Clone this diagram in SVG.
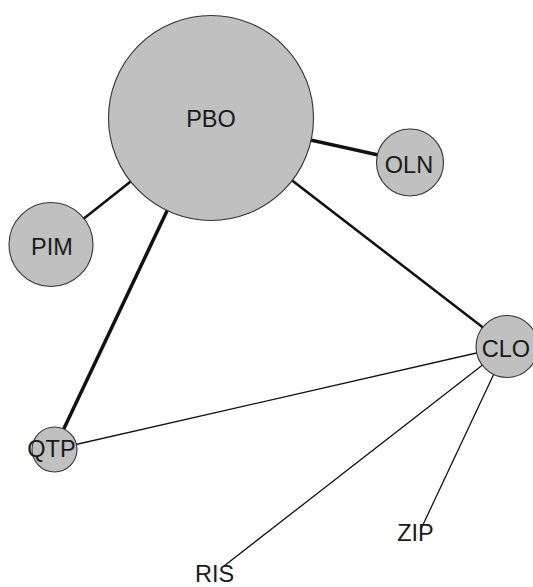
<svg xmlns="http://www.w3.org/2000/svg" width="533" height="587" viewBox="0 0 533 587">
<style>
.e{stroke:#111;fill:none;stroke-linecap:butt}
.n{fill:#c0c0c0;stroke:#333;stroke-width:1.1}
.t{font-family:"Liberation Sans",Arial,sans-serif;font-size:23.5px;fill:#1a1a1a;text-anchor:middle}
</style>
<rect width="533" height="587" fill="#fff"/>
<g id="edges">
<line class="e" x1="211" y1="118" x2="410" y2="162" stroke-width="3.6"/>
<line class="e" x1="211" y1="118" x2="51" y2="244.5" stroke-width="2.5"/>
<line class="e" x1="211" y1="118" x2="54" y2="449.5" stroke-width="3.5"/>
<line class="e" x1="211" y1="118" x2="507" y2="346" stroke-width="2.5"/>
<line class="e" x1="54" y1="449.5" x2="507" y2="346" stroke-width="1.3"/>
<line class="e" x1="507" y1="346" x2="224" y2="566" stroke-width="1.3"/>
<line class="e" x1="507" y1="346" x2="421" y2="529" stroke-width="1.3"/>
</g>
<g id="PBO"><circle class="n" cx="211" cy="118" r="102.5"/><text class="t" x="211" y="127">PBO</text></g>
<g id="OLN"><circle class="n" cx="410" cy="162.5" r="33.5"/><text class="t" x="409" y="173">OLN</text></g>
<g id="PIM"><circle class="n" cx="51" cy="244.5" r="42"/><text class="t" x="52" y="255">PIM</text></g>
<g id="CLO"><circle class="n" cx="507" cy="346.5" r="31"/><text class="t" x="506" y="356.5">CLO</text></g>
<g id="QTP"><circle class="n" cx="54.5" cy="449.5" r="22.5"/><text class="t" x="51.5" y="457">QTP</text></g>
<g id="ZIP"><text class="t" x="415.5" y="541">ZIP</text></g>
<g id="RIS"><text class="t" x="214.5" y="582">RIS</text></g>
</svg>
